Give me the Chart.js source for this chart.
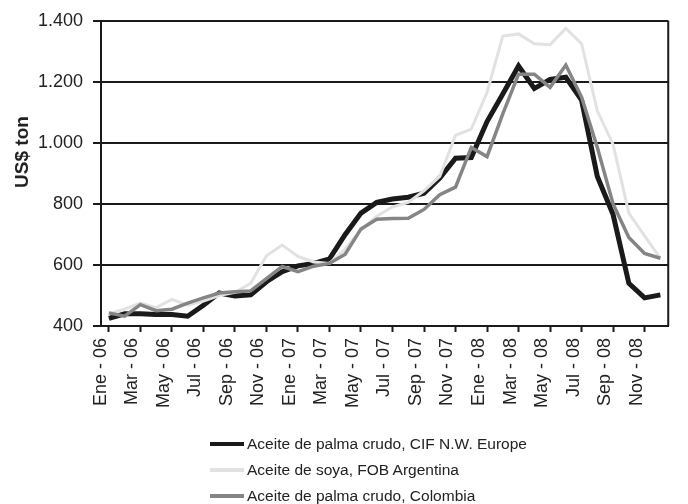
<!DOCTYPE html>
<html>
<head>
<meta charset="utf-8">
<script src="https://cdn.jsdelivr.net/npm/chart.js@4/dist/chart.umd.min.js"></script>
<style>
  body { margin: 0; background: #fff; font-family: "Liberation Sans", Arial, sans-serif; }
  #wrap { position: relative; width: 688px; height: 504px; }
  #legend { position: absolute; left: 210px; top: 431px; }
  .item { height: 26px; display: flex; align-items: center; font-size: 15.5px; color: #222; }
  .swatch { width: 34px; margin-right: 3px; }
</style>
</head>
<body>
<div id="wrap">
  <canvas id="priceChart" width="688" height="504"></canvas>
  <div id="legend"></div>
</div>
<script>
const months = ['Ene', 'Feb', 'Mar', 'Abr', 'May', 'Jun', 'Jul', 'Ago', 'Sep', 'Oct', 'Nov', 'Dic'];
const years = ['06', '07', '08'];
const labels = [];
years.forEach(y => months.forEach(m => labels.push(m + ' - ' + y)));

// US$ ton, monthly Ene-06 .. Dic-08
const palmaCif = [425, 440, 440, 438, 438, 432, 468, 508, 498, 502, 545, 578,
  597, 605, 620, 700, 770, 805, 816, 822, 835, 885, 950, 952,
  1070, 1160, 1252, 1178, 1208, 1215, 1140, 890, 765, 540, 492, 502];
const soyaFob = [440, 455, 475, 460, 487, 468, 482, 500, 510, 540, 630, 665,
  628, 610, 605, 652, 715, 760, 790, 805, 843, 890, 1025, 1045,
  1165, 1350, 1357, 1325, 1322, 1375, 1325, 1105, 995, 770, 695, 622];
const palmaColombia = [443, 432, 470, 450, 455, 475, 492, 508, 512, 515, 555, 595,
  578, 596, 605, 635, 718, 750, 752, 753, 782, 830, 855, 985,
  955, 1095, 1225, 1225, 1182, 1255, 1150, 985, 800, 690, 638, 622];

const seriesNames = ['Aceite de palma crudo, CIF N.W. Europe', 'Aceite de soya, FOB Argentina', 'Aceite de palma crudo, Colombia'];
const seriesColors = ['#1a1a1a', '#e2e2e2', '#858585'];
const seriesWidths = [5, 3, 3.5];
const yTitle = 'US$ ton';

function formatMiles(v) {
  return String(v).replace(/\B(?=(\d{3})+(?!\d))/g, '.');
}

// right frame line of the plot area + the y title (sits a bit above centre in the original)
const frameAndTitle = {
  id: 'frameAndTitle',
  afterDraw(chart) {
    const a = chart.chartArea;
    const ctx = chart.ctx;
    ctx.save();
    ctx.strokeStyle = '#1a1a1a';
    ctx.lineWidth = 2;
    ctx.beginPath();
    ctx.moveTo(a.right, a.top);
    ctx.lineTo(a.right, a.bottom);
    ctx.stroke();

    ctx.translate(23, 152);
    ctx.rotate(-Math.PI / 2);
    ctx.fillStyle = '#222';
    ctx.font = 'bold 19px "Liberation Sans", Arial, sans-serif';
    ctx.textAlign = 'center';
    ctx.textBaseline = 'middle';
    ctx.fillText(yTitle, 0, 0);
    ctx.restore();
  }
};

const series = [palmaCif, soyaFob, palmaColombia];
const ctx = document.getElementById('priceChart').getContext('2d');
new Chart(ctx, {
  type: 'line',
  data: {
    labels: labels,
    datasets: series.map((d, i) => ({
      label: seriesNames[i],
      data: d,
      borderColor: seriesColors[i],
      borderWidth: seriesWidths[i],
      pointRadius: 0,
      tension: 0,
      fill: false,
      order: 2 - i
    }))
  },
  options: {
    responsive: false,
    animation: false,
    layout: { padding: { top: 18, right: 3, left: 0, bottom: 0 } },
    plugins: { legend: { display: false }, tooltip: { enabled: false } },
    scales: {
      x: {
        offset: true,
        afterFit: s => { s.height = 178; },
        grid: {
          drawOnChartArea: false,
          tickLength: 6,
          tickWidth: 2,
          tickColor: c => (c.index % 2 === 0 ? '#1a1a1a' : 'rgba(0,0,0,0)')
        },
        border: { color: '#1a1a1a', width: 2 },
        ticks: {
          autoSkip: false,
          minRotation: 90,
          maxRotation: 90,
          padding: 6,
          labelOffset: -8,
          color: '#222',
          font: { family: 'Liberation Sans', size: 18 },
          callback: function (v, i) { return i % 2 === 0 ? this.getLabelForValue(v) : ''; }
        }
      },
      y: {
        min: 400,
        max: 1400,
        afterFit: s => { s.width = 101; },
        grid: { color: '#1a1a1a', lineWidth: 2, tickLength: 8, tickColor: '#1a1a1a' },
        border: { color: '#1a1a1a', width: 2 },
        ticks: {
          stepSize: 200,
          padding: 10,
          color: '#222',
          font: { family: 'Liberation Sans', size: 18 },
          callback: v => formatMiles(v)
        }
      }
    }
  },
  plugins: [frameAndTitle]
});

// legend stacked vertically under the chart
const legend = document.getElementById('legend');
seriesNames.forEach((name, i) => {
  const item = document.createElement('div');
  item.className = 'item';
  const sw = document.createElement('span');
  sw.className = 'swatch';
  sw.style.borderTop = '4px solid ' + seriesColors[i];
  item.appendChild(sw);
  item.appendChild(document.createTextNode(name));
  legend.appendChild(item);
});
</script>
</body>
</html>
